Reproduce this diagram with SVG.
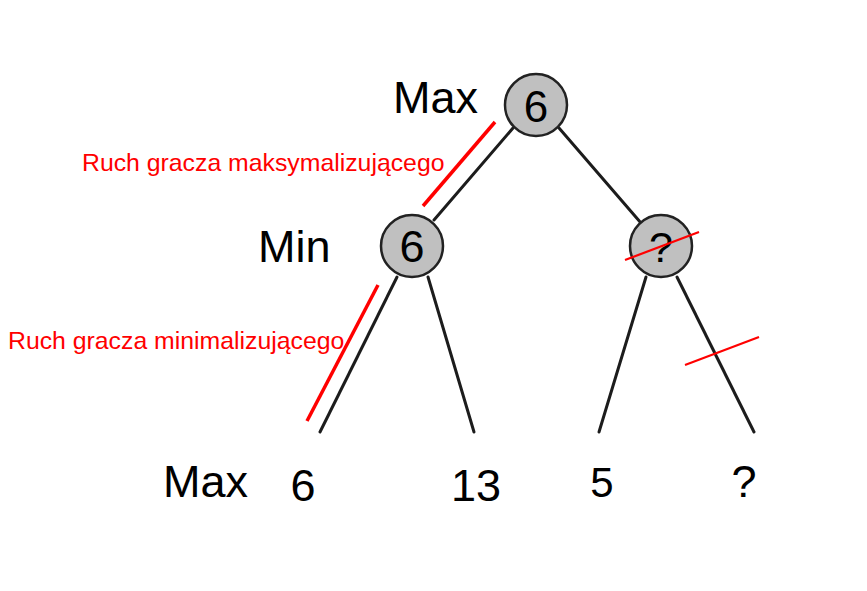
<svg xmlns="http://www.w3.org/2000/svg" width="867" height="591" viewBox="0 0 867 591">
<style>
.node{fill:#c0c0c0;stroke:#222;stroke-width:2.5}
.edge{stroke:#1c1c1c;stroke-width:3;fill:none;stroke-linecap:round}
.red{stroke:#ff0000;fill:none}
.lbl{font-family:"Liberation Sans",Arial,sans-serif;fill:#000}
.val{font-family:"Liberation Sans",Arial,sans-serif;fill:#000;text-anchor:middle}
.rt{font-family:"Liberation Sans",Arial,sans-serif;fill:#ff0000;font-size:24.8px}
</style>
<rect width="867" height="591" fill="#fff"/>
<g id="connectors">
<line class="edge" x1="513" y1="128" x2="434" y2="220"/>
<line class="edge" x1="559" y1="128" x2="641" y2="223"/>
<line class="edge" x1="397" y1="277" x2="320" y2="432"/>
<line class="edge" x1="428" y1="277" x2="474" y2="432"/>
<line class="edge" x1="646" y1="277" x2="599" y2="432"/>
<line class="edge" x1="677" y1="277" x2="754" y2="432"/>
</g>
<g id="root">
<circle class="node" cx="536" cy="105" r="31"/>
<text class="val" x="536" y="122" font-size="44">6</text>
</g>
<g id="min-left">
<circle class="node" cx="412" cy="246" r="31"/>
<text class="val" x="412" y="262" font-size="45">6</text>
</g>
<g id="min-right">
<circle class="node" cx="661" cy="246" r="31"/>
<text class="val" x="661" y="262" font-size="43">?</text>
</g>
<g id="leaf1"><text class="val" x="303" y="501" font-size="45" fill="#1a1a1a">6</text></g>
<g id="leaf2"><text class="val" x="476" y="501" font-size="45" fill="#1a1a1a">13</text></g>
<g id="leaf3"><text class="val" x="602" y="497" font-size="42">5</text></g>
<g id="leaf4"><text class="val" x="744" y="497" font-size="45">?</text></g>
<g id="labels">
<text class="lbl" x="393" y="113" font-size="45">Max</text>
<text class="lbl" x="258" y="262" font-size="45">Min</text>
<text class="lbl" x="163" y="497" font-size="45">Max</text>
</g>
<g id="annotations">
<text class="rt" x="82" y="171">Ruch gracza maksymalizującego</text>
<text class="rt" x="8" y="349">Ruch gracza minimalizującego</text>
<line class="red" stroke-width="3.5" x1="495" y1="122" x2="423" y2="206"/>
<line class="red" stroke-width="3.5" x1="378" y1="285" x2="307" y2="421"/>
<line class="red" stroke-width="2.2" x1="625" y1="260" x2="699" y2="232"/>
<line class="red" stroke-width="2.2" x1="685" y1="365" x2="759" y2="337"/>
</g>
</svg>
